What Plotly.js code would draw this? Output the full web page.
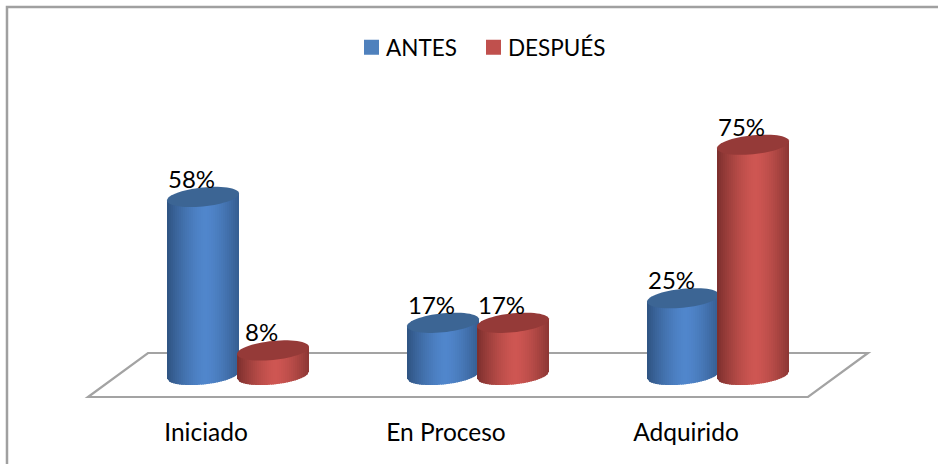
<!DOCTYPE html>
<html><head><meta charset="utf-8">
<script src="https://cdn.plot.ly/plotly-3.0.1.min.js"></script>
<style>html,body{margin:0;padding:0;background:#fff}#c{width:938px;height:464px}</style></head>
<body><div id="c"></div>
<script>
var categories = ["Iniciado", "En Proceso", "Adquirido"];
var antes = [58, 17, 25];
var despues = [8, 17, 75];
var seriesNames = ["ANTES", "DESPUÉS"];

var W=938,H=464, L=60,R=900,T=60,B=398;
var PXCAT=240, CAT0=206, Y0=375, PXY=3.07;
var fx=function(px){return (px-L)/(R-L);}, fy=function(py){return (B-py)/(B-T);};
var A=36, TILT=3.5, EB=9.5;
var styles=[
 {off:-3, edge:[46,82,128], mid:[80,134,204], lid:'#3c6594', base:'#4f81bd'},
 {off:67, edge:[122,46,44], mid:[206,86,82], lid:'#953a38', base:'#c0504d'}
];
function mix(a,b,t){return 'rgb('+a.map(function(v,i){return Math.round(v+(b[i]-v)*t);}).join(',')+')';}
function dx(px){return px/PXCAT;} function dy(px){return -px/PXY;}
var shapes=[];
function pp(x,y){return fx(x).toFixed(5)+','+fy(y).toFixed(5);}
shapes.push({type:'path',xref:'paper',yref:'paper',layer:'below',line:{color:'#a3a3a3',width:2.2},
  path:'M'+pp(88,397)+' L'+pp(808,397)+' L'+pp(868,353)+' L'+pp(148,353)+' Z'});
shapes.push({type:'path',xref:'paper',yref:'paper',layer:'below',line:{color:'#a0a0a0',width:2.5},
  path:'M'+pp(7,464)+' L'+pp(7,7)+' L'+pp(938,7)});

function cylinder(cat,val,st){
  var cx=cat+dx(st.off), N=36;
  for(var i=0;i<N;i++){
    var u0=-1+2*i/N, u1=-1+2*(i+1)/N+(i<N-1?0.02:0), um=(u0+u1)/2;
    var d=Math.abs(um-0.08)/1.08, t=1-Math.pow(d,1.5);
    var low=function(u){var s=Math.sqrt(Math.max(0,1-u*u)); return -TILT*u+EB*s;};
    var p='M'+(cx+dx(A*u0))+','+(dy(low(u0)))+' L'+(cx+dx(A*u1))+','+(dy(low(u1)))+
          ' L'+(cx+dx(A*u1))+','+(val+dy(-TILT*u1))+' L'+(cx+dx(A*u0))+','+(val+dy(-TILT*u0))+' Z';
    shapes.push({type:'path',xref:'x',yref:'y',layer:'above',path:p,line:{width:0},fillcolor:mix(st.edge,st.mid,t)});
  }
  var q='';
  for(var k=0;k<60;k++){
    var a=2*Math.PI*k/60, c=Math.cos(a), s=Math.sin(a);
    q+=(k?' L':'M')+(cx+dx(A*c))+','+(val+dy(-TILT*c+EB*s));
  }
  shapes.push({type:'path',xref:'x',yref:'y',layer:'above',path:q+' Z',line:{width:0},fillcolor:st.lid});
}
var annotations=[];
function labels(cat,val,st){
  annotations.push({x:cat,y:val,xref:'x',yref:'y',text:val+'%',showarrow:false,
    xshift:st.off-11.5,yshift:18.5,font:{family:'Lato',size:24,color:'#000'}});
}
categories.forEach(function(c,i){
  cylinder(i,antes[i],styles[0]); cylinder(i,despues[i],styles[1]);
  labels(i,antes[i],styles[0]); labels(i,despues[i],styles[1]);
});
var bw=2*A*0.85/PXCAT;
function barTrace(name,vals,st){
  return {type:'bar',name:name,x:categories,y:vals,width:bw,offset:dx(st.off)-bw/2,
    marker:{color:st.base,line:{color:st.base,width:3}},hoverinfo:'x+y'};
}
var data=[barTrace(seriesNames[0],antes,styles[0]),barTrace(seriesNames[1],despues,styles[1])];
var layout={
  width:W,height:H,paper_bgcolor:'#fff',plot_bgcolor:'rgba(0,0,0,0)',
  margin:{l:L,r:W-R,t:T,b:H-B,pad:0},barmode:'overlay',
  font:{family:'Lato',size:22,color:'#000'},
  xaxis:{type:'category',categoryorder:'array',categoryarray:categories,
    range:[(L-CAT0)/PXCAT,(R-CAT0)/PXCAT],showgrid:false,zeroline:false,showline:false,
    ticks:'outside',ticklen:13,tickcolor:'rgba(0,0,0,0)',tickfont:{family:'Lato',size:24.5,color:'#000'}},
  yaxis:{range:[-(B-Y0)/PXY,(Y0-T)/PXY],visible:false,showgrid:false,zeroline:false},
  legend:{orientation:'h',x:fx(351.5),xanchor:'left',y:fy(26),yanchor:'top',font:{family:'Lato',size:22.5,color:'#000'},
    traceorder:'normal',itemclick:false,itemdoubleclick:false,entrywidth:77,entrywidthmode:'pixels'},
  showlegend:true,shapes:shapes,annotations:annotations
};
Plotly.newPlot('c',data,layout,{displayModeBar:false}).then(function(){
  document.querySelectorAll('.legendtext').forEach(function(t){t.setAttribute('x','34.5');});
  document.querySelectorAll('.legend .scrollbox').forEach(function(b){b.removeAttribute('clip-path');});
});
</script></body></html>
